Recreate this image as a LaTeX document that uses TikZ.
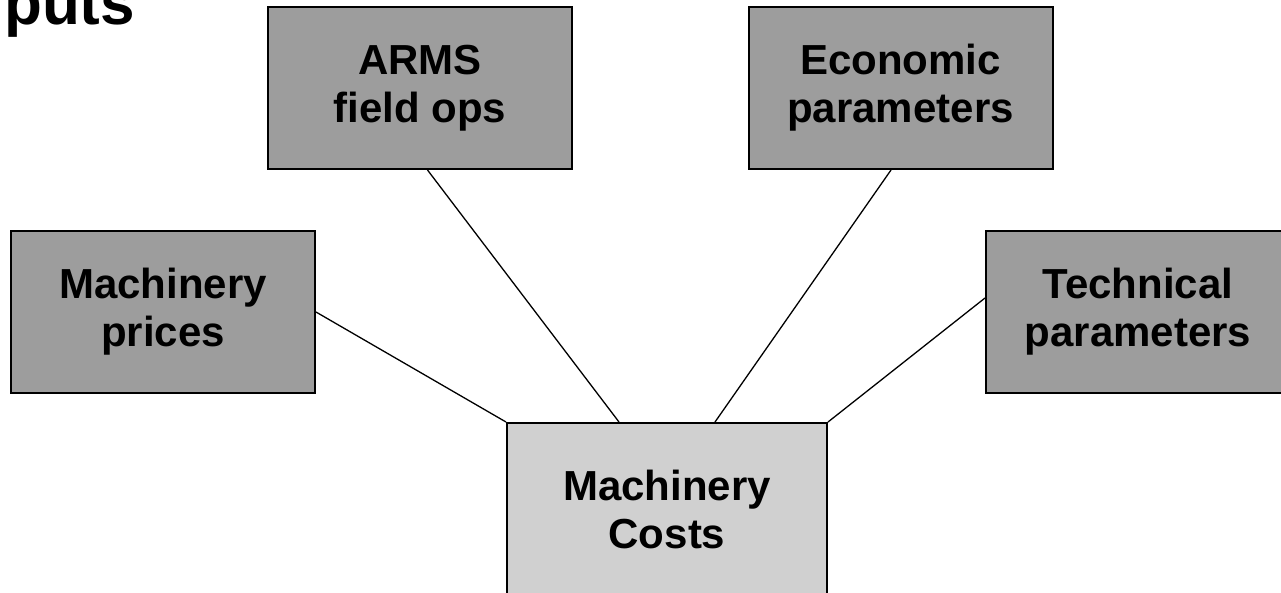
\documentclass[tikz,border=0pt]{standalone}
\usepackage{fontspec}
\setmainfont{Liberation Sans}
\usetikzlibrary{calc}
\definecolor{boxgray}{RGB}{157,157,157}
\definecolor{costgray}{RGB}{208,208,208}
\begin{document}
\begin{tikzpicture}[x=1pt,y=-1pt,
  inbox/.style={draw=black,line width=2pt,fill=boxgray,minimum width=304pt,minimum height=162pt,
    align=center,inner sep=0pt,font=\fontsize{42}{48}\selectfont\bfseries},
  outbox/.style={inbox,fill=costgray,minimum width=320pt,minimum height=172pt},
  link/.style={draw=black,line width=1.3pt}]
\useasboundingbox (0,0) rectangle (1281,592);
\clip (0,0) rectangle (1281,592);
\node[anchor=base west,inner sep=0pt,font=\fontsize{62}{62}\selectfont\bfseries] (title) at (4,24) {puts};
\node[inbox] (arms) at (420,88) {ARMS\\field ops};
\node[inbox] (econ) at (900.5,88) {Economic\\parameters};
\node[inbox] (prices) at (163,312) {Machinery\\prices};
\node[inbox] (tech) at (1138,312) {Technical\\parameters};
\node[outbox] (costs) at (667,509) {Machinery\\Costs};
\draw[link] (prices.east) -- (costs.north west);
\draw[link] ([xshift=7.5pt]arms.south) -- ([xshift=-48pt]costs.north);
\draw[link] ([xshift=-9.5pt]econ.south) -- ([xshift=48pt]costs.north);
\draw[link] ([yshift=14pt]tech.west) -- (costs.north east);
\end{tikzpicture}
\end{document}
